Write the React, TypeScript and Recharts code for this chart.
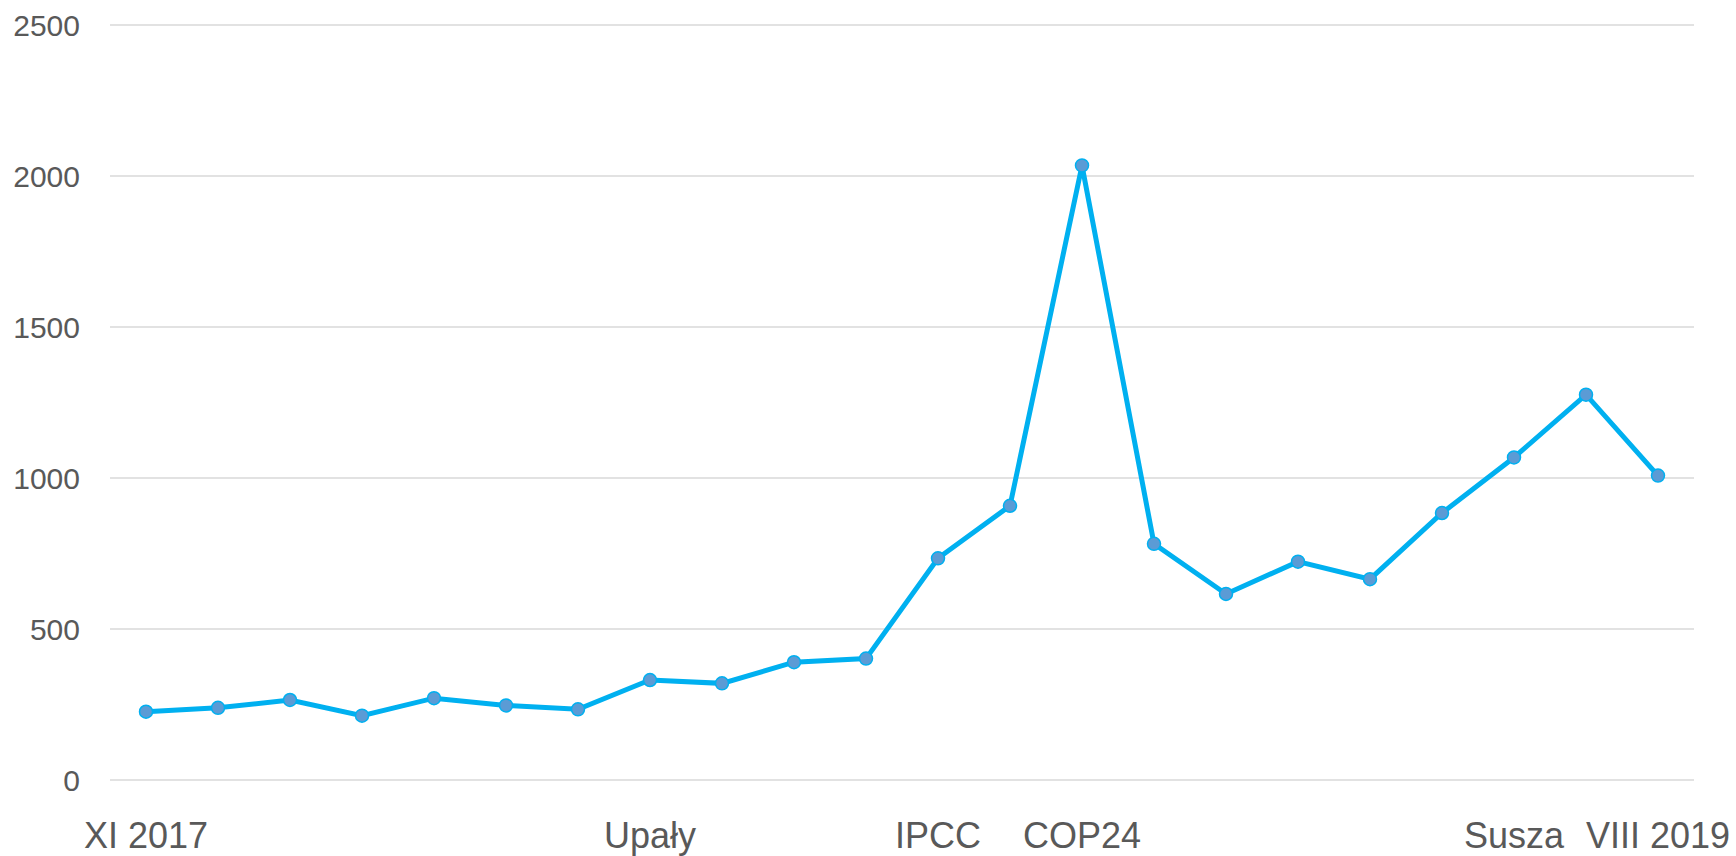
import React from "react";
import { LineChart, Line, XAxis, YAxis, CartesianGrid } from "recharts";

const months = [
  "XI 2017", "XII 2017", "I 2018", "II 2018", "III 2018", "IV 2018", "V 2018",
  "VI 2018", "VII 2018", "VIII 2018", "IX 2018", "X 2018", "XI 2018", "XII 2018",
  "I 2019", "II 2019", "III 2019", "IV 2019", "V 2019", "VI 2019", "VII 2019", "VIII 2019",
];
const values = [
  226, 239, 265, 213, 271, 247, 234, 331, 320, 390, 402, 734, 908, 2035,
  782, 616, 723, 665, 884, 1068, 1276, 1008,
];
const tickLabels = [
  "XI 2017", "", "", "", "", "", "", "Upały", "", "", "", "IPCC", "", "COP24",
  "", "", "", "", "", "Susza", "", "VIII 2019",
];
const yTicks = [0, 500, 1000, 1500, 2000, 2500];

const data = months.map((m, i) => ({ month: m, value: values[i], label: tickLabels[i] }));

const FONT = "'Liberation Sans', Arial, sans-serif";
const TEXT = "#595959";

const XTick = (props: any) => {
  const { x, y, index } = props;
  const label = tickLabels[index] || "";
  if (!label) return null;
  return (
    <text x={x} y={y + 34} dy="0.71em" textAnchor="middle" fill={TEXT} fontSize={36} fontFamily={FONT}>
      {label}
    </text>
  );
};

const YTick = (props: any) => {
  const { y, payload } = props;
  return (
    <text x={80} y={y} dy="0.355em" textAnchor="end" fill={TEXT} fontSize={30} fontFamily={FONT}>
      {payload.value}
    </text>
  );
};

export default function App() {
  return (
    <div style={{ width: 1736, height: 856, background: "#fff" }}>
      <style>{`body{margin:0;}`}</style>
      <LineChart
        width={1736}
        height={856}
        data={data}
        margin={{ top: 25, right: 42, bottom: 0, left: 0 }}
      >
        <CartesianGrid vertical={false} stroke="#D9D9D9" strokeWidth={1.5} />
        <XAxis
          dataKey="month"
          interval={0}
          axisLine={false}
          tickLine={false}
          height={76}
          padding={{ left: 36, right: 36 }}
          tick={<XTick />}
        />
        <YAxis
          domain={[0, 2500]}
          ticks={yTicks}
          axisLine={false}
          tickLine={false}
          width={110}
          tick={<YTick />}
        />
        <Line
          type="linear"
          dataKey="value"
          stroke="#00B0F0"
          strokeWidth={5}
          dot={{ r: 6.5, fill: "#5B9BD5", stroke: "#00B0F0", strokeWidth: 1.5 }}
          activeDot={false}
          isAnimationActive={false}
        />
      </LineChart>
    </div>
  );
}
